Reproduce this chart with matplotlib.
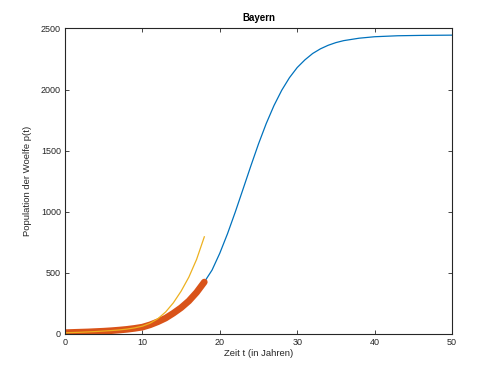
import matplotlib
matplotlib.use("Agg")
import matplotlib.pyplot as plt

# Blue: logistic model curve
t_blue = [0, 1, 2, 3, 4, 5, 6, 7, 8, 9, 10, 11, 12, 13, 14, 15, 16, 17, 18,
          19, 20, 21, 22, 23, 24, 25, 26, 27, 28, 29, 30, 31, 32, 33, 34, 35,
          36, 38, 40, 43, 46, 50]
p_blue = [11, 13, 15, 17, 20, 23, 27, 32, 38, 46, 56, 75, 100, 130, 170, 215,
          270, 340, 425, 523, 661, 821, 998, 1185, 1373, 1555, 1722, 1869, 1994,
          2097, 2180, 2243, 2295, 2333, 2362, 2384, 2400, 2420, 2432, 2440,
          2443, 2445]

# Orange: thick curve (0..18)
t_orange = [0, 1, 2, 3, 4, 5, 6, 7, 8, 9, 10, 11, 12, 13, 14, 15, 16, 17, 18]
p_orange = [11, 13, 15, 17, 20, 23, 27, 32, 38, 46, 56, 75, 100, 130, 170, 215,
            270, 340, 425]

# Yellow: exponential curve (0..18)
t_yellow = [0, 1, 2, 3, 4, 5, 6, 7, 8, 9, 10, 11, 12, 13, 14, 15, 16, 17, 18]
p_yellow = [10, 12, 14, 17, 20, 24, 28, 33, 40, 50, 64, 88, 125, 180, 255, 350,
            465, 610, 795]

x_ticks = [0, 10, 20, 30, 40, 50]
y_ticks = [0, 500, 1000, 1500, 2000, 2500]

plt.rcParams['font.family'] = ['Liberation Sans', 'DejaVu Sans']

fig = plt.figure(figsize=(5.0, 3.74), dpi=100)
ax = fig.add_axes([0.13, 0.107, 0.774, 0.817])

ax.plot(t_blue, p_blue, color='#0072BD', lw=0.9)
ax.plot(t_orange, p_orange, color='#D95319', lw=4.8, solid_capstyle='round',
        solid_joinstyle='round')
ax.plot(t_yellow, p_yellow, color='#EDB120', lw=0.9)

ax.set_xlim(0, 50)
ax.set_ylim(0, 2500)
ax.set_xticks(x_ticks)
ax.set_yticks(y_ticks)

gray = '#262626'
for s in ax.spines.values():
    s.set_color(gray)
    s.set_linewidth(0.8)
ax.tick_params(direction='in', length=3, width=0.6, colors=gray,
               labelsize=6.5, top=True, right=True, pad=3)

ax.set_xlabel('Zeit t (in Jahren)', fontsize=6.8, color=gray, labelpad=1)
ax.set_ylabel('Population der Woelfe p(t)', fontsize=6.8, color=gray, labelpad=6)
ax.set_title('Bayern', fontsize=7, fontweight='bold', color='black', pad=5)

fig.savefig('out.png', dpi=100)
